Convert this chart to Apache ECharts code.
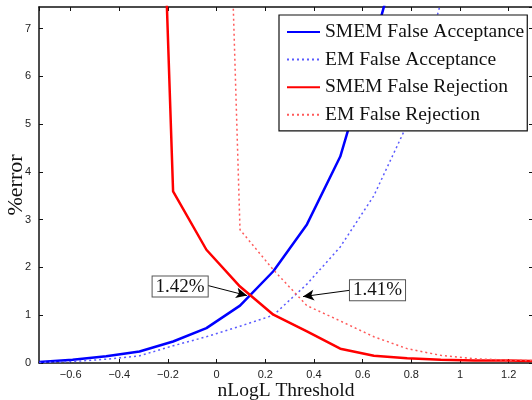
<!DOCTYPE html>
<html>
<head>
<meta charset="utf-8">
<script src="https://cdn.jsdelivr.net/npm/echarts@6/dist/echarts.min.js"></script>
<style>
  html, body { margin: 0; padding: 0; background: #fff; }
  #chart { width: 532px; height: 400px; }
</style>
</head>
<body>
<div id="chart"></div>
<script>
// threshold values (x) and error rates in % (y)
const thresholds = [-0.729, -0.592, -0.454, -0.317, -0.179, -0.042, 0.096, 0.233, 0.371, 0.508, 0.646, 0.783, 0.921, 1.058, 1.196, 1.333]
const smemFA = [0.02, 0.07, 0.14, 0.24, 0.45, 0.73, 1.2, 1.92, 2.9, 4.32, 6.7, 9.2, 12.5, 16, 20, 24]
const emFA   = [0.01, 0.03, 0.08, 0.15, 0.36, 0.55, 0.77, 1.0, 1.65, 2.43, 3.5, 4.99, 7.54, 11, 15, 19]
const smemFR = [60, 45, 34, 24.6, 3.59, 2.37, 1.6, 1.01, 0.66, 0.3, 0.15, 0.1, 0.07, 0.05, 0.05, 0.04]
const emFR   = [80, 65, 52, 40, 32, 26, 2.79, 1.95, 1.2, 0.88, 0.55, 0.3, 0.16, 0.09, 0.06, 0.05]

const seriesNames = ['SMEM False Acceptance', 'EM False Acceptance', 'SMEM False Rejection', 'EM False Rejection']

// annotation: label position, arrow start, arrow tip
const note142 = { text: '1.42%', box: [-0.15, 1.6], from: [-0.035, 1.62], to: [0.125, 1.41] }
const note141 = { text: '1.41%', box: [0.661, 1.52], from: [0.545, 1.52], to: [0.355, 1.39] }

const serif = 'Liberation Serif'
const toPairs = ys => thresholds.map((x, i) => [x, ys[i]])

const chart = echarts.init(document.getElementById('chart'))

const axisCommon = {
  type: 'value',
  splitLine: { show: false },
  axisLine: { show: true, onZero: false, lineStyle: { color: '#111', width: 1.5 } },
  axisTick: { show: true, inside: true, length: 4, lineStyle: { color: '#111', width: 1 } }
}

const noteLabel = {
  show: true,
  position: 'inside',
  fontFamily: serif,
  fontSize: 19,
  color: '#111',
  backgroundColor: '#fff',
  borderColor: '#555',
  borderWidth: 1,
  padding: [1, 3, 0, 3],
  lineHeight: 19
}

const makeNote = note => ({
  markPoint: {
    silent: true,
    symbol: 'rect',
    symbolSize: 0,
    label: { ...noteLabel, formatter: note.text },
    data: [{ coord: note.box }]
  },
  markLine: {
    silent: true,
    symbol: ['none', 'arrow'],
    symbolSize: [8, 11],
    label: { show: false },
    lineStyle: { color: '#000', width: 1, type: 'solid' },
    data: [[{ coord: note.from }, { coord: note.to }]]
  }
})

const option = {
  animation: false,
  backgroundColor: '#fff',
  grid: { left: 39, right: -1, top: 7, bottom: 37, containLabel: false, outerBoundsMode: 'none' },
  xAxis: [
    {
      ...axisCommon,
      min: -0.73,
      max: 1.3,
      splitNumber: 10,
      name: 'nLogL Threshold',
      nameLocation: 'middle',
      nameGap: 18,
      nameMoveOverlap: false,
      nameTextStyle: { fontFamily: serif, fontSize: 19.5, color: '#111' },
      axisLabel: {
        showMinLabel: false,
        showMaxLabel: false,
        margin: 6,
        fontFamily: 'Liberation Sans',
        fontSize: 11,
        color: '#222',
        formatter: v => String(v).replace('-', '\u2212')
      }
    },
    {
      ...axisCommon,
      position: 'top',
      min: -0.73,
      max: 1.3,
      splitNumber: 10,
      axisLabel: { show: false }
    }
  ],
  yAxis: [
    {
      ...axisCommon,
      min: 0,
      max: 7.45,
      splitNumber: 7,
      name: '%error',
      nameLocation: 'middle',
      nameGap: 12,
      nameMoveOverlap: false,
      nameTextStyle: { fontFamily: serif, fontSize: 22, color: '#111' },
      axisLabel: {
        showMaxLabel: false,
        margin: 8,
        fontFamily: 'Liberation Sans',
        fontSize: 11,
        color: '#222'
      }
    },
    {
      ...axisCommon,
      position: 'right',
      min: 0,
      max: 7.45,
      splitNumber: 7,
      axisLabel: { show: false }
    }
  ],
  legend: {
    orient: 'vertical',
    left: 279,
    top: 15,
    z: 10,
    data: seriesNames,
    backgroundColor: '#fff',
    borderColor: '#111',
    borderWidth: 1.2,
    padding: [7, 3, 6, 7],
    itemGap: 7.6,
    itemWidth: 33,
    itemHeight: 20,
    itemStyle: { opacity: 0 },
    textStyle: { fontFamily: serif, fontSize: 19.5, color: '#111', lineHeight: 20 }
  },
  series: [
    {
      name: seriesNames[0],
      type: 'line',
      symbol: 'none',
      clip: true,
      color: '#0000ff',
      lineStyle: { color: '#0000ff', width: 2.5 },
      data: toPairs(smemFA),
      ...makeNote(note142)
    },
    {
      name: seriesNames[1],
      type: 'line',
      symbol: 'none',
      clip: true,
      color: '#5a5aff',
      lineStyle: { color: '#5a5aff', width: 1.5, type: [2, 3] },
      data: toPairs(emFA),
      ...makeNote(note141)
    },
    {
      name: seriesNames[2],
      type: 'line',
      symbol: 'none',
      clip: true,
      color: '#ff0000',
      lineStyle: { color: '#ff0000', width: 2.5 },
      data: toPairs(smemFR)
    },
    {
      name: seriesNames[3],
      type: 'line',
      symbol: 'none',
      clip: true,
      color: '#ff5a5a',
      lineStyle: { color: '#ff5a5a', width: 1.5, type: [2, 3] },
      data: toPairs(emFR)
    }
  ]
}

chart.setOption(option)
</script>
</body>
</html>
